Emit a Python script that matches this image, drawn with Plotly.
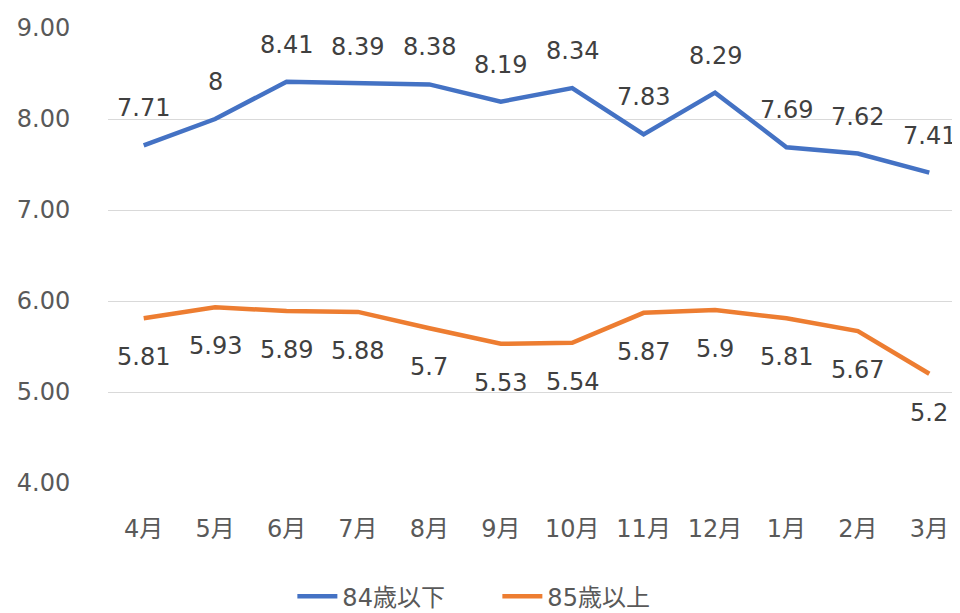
import plotly.graph_objects as go

months = ["4月", "5月", "6月", "7月", "8月", "9月", "10月", "11月", "12月", "1月", "2月", "3月"]
under84 = [7.71, 8, 8.41, 8.39, 8.38, 8.19, 8.34, 7.83, 8.29, 7.69, 7.62, 7.41]
over85 = [5.81, 5.93, 5.89, 5.88, 5.7, 5.53, 5.54, 5.87, 5.9, 5.81, 5.67, 5.2]
names = ["84歳以下", "85歳以上"]
yticks = [4, 5, 6, 7, 8, 9]

FONT = "DejaVu Sans, Noto Sans CJK JP, sans-serif"
BLUE = "#4472C4"
ORANGE = "#ED7D31"

fig = go.Figure()
fig.add_trace(go.Scatter(x=months, y=under84, mode="lines", name=names[0],
                         line=dict(color=BLUE, width=4.5)))
fig.add_trace(go.Scatter(x=months, y=over85, mode="lines", name=names[1],
                         line=dict(color=ORANGE, width=4.5)))

for m, v in zip(months, under84):
    fig.add_annotation(x=m, y=v, text=f"{v:g}", showarrow=False, yshift=37,
                       yanchor="middle", font=dict(size=24, color="#404040", family=FONT))
for m, v in zip(months, over85):
    fig.add_annotation(x=m, y=v, text=f"{v:g}", showarrow=False, yshift=-39,
                       yanchor="middle", font=dict(size=24, color="#404040", family=FONT))

fig.update_layout(
    width=952, height=605,
    margin=dict(l=100, r=0, t=20, b=130, autoexpand=False),
    plot_bgcolor="white", paper_bgcolor="white",
    font=dict(family=FONT, size=24, color="#595959"),
    showlegend=True,
    legend=dict(orientation="h", x=0.457, xanchor="center", y=-0.25, yanchor="middle",
                font=dict(size=24, color="#595959"), itemwidth=40, entrywidth=150),
    xaxis=dict(type="category", range=[-0.5, 11.43], showgrid=False, showline=False,
               automargin=False,
               ticks="outside", ticklen=24, tickcolor="rgba(0,0,0,0)",
               tickfont=dict(size=24, color="#595959")),
    yaxis=dict(range=[4, 9], tickvals=yticks, tickformat=".2f", showgrid=True,
               automargin=False,
               gridcolor="#D9D9D9", gridwidth=1.3, zeroline=False, showline=False,
               ticks="outside", ticklen=32, tickcolor="rgba(0,0,0,0)",
               tickfont=dict(size=24, color="#595959")),
)

fig.write_html("out.html")
